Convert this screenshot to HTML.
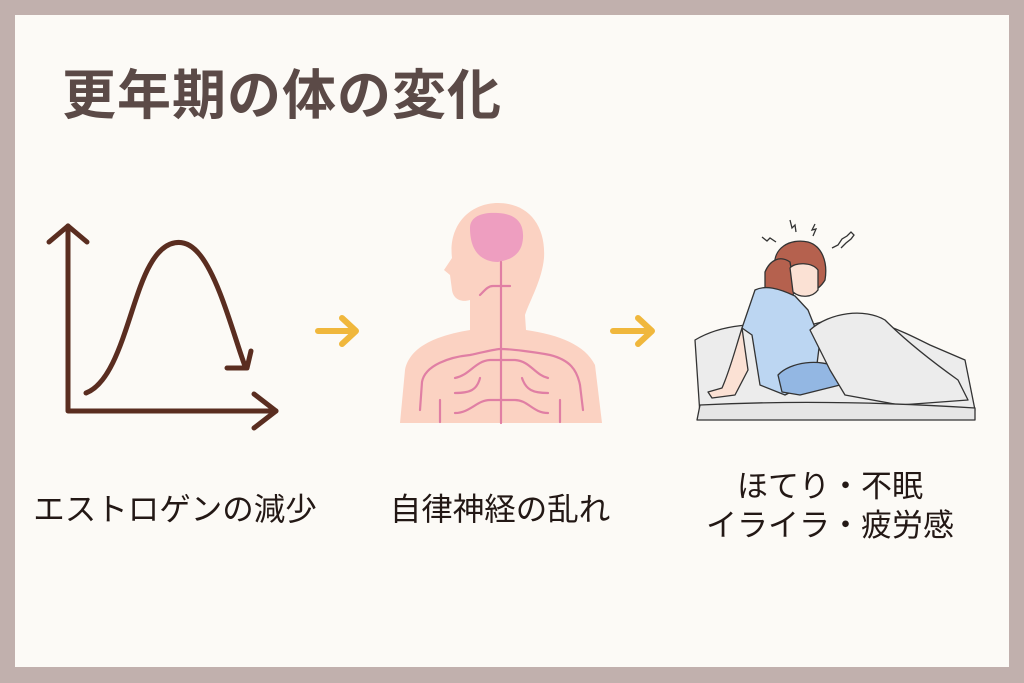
<!DOCTYPE html>
<html><head><meta charset="utf-8"><style>
html,body{margin:0;padding:0;}
body{width:1024px;height:683px;background:#c1b0ad;position:relative;overflow:hidden;font-family:"Liberation Sans","Noto Sans CJK JP",sans-serif;}
.panel{position:absolute;left:15px;top:15px;width:994px;height:652px;background:#fcfaf6;}
.t{position:absolute;color:#231815;white-space:nowrap;text-align:center;}
</style></head><body>
<div class="panel"></div>
<div class="t" style="left:62px;top:51px;font-size:54px;font-weight:bold;color:#5b4a47;letter-spacing:1px;">更年期の体の変化</div>
<div class="t" style="left:20px;width:310px;top:484px;font-size:31.5px;">エストロゲンの減少</div>
<div class="t" style="left:350px;width:300px;top:484px;font-size:31.5px;">自律神経の乱れ</div>
<div class="t" style="left:680px;width:300px;top:467px;font-size:31px;line-height:39px;">ほてり・不眠<br>イライラ・疲労感</div>
<svg width="1024" height="683" style="position:absolute;left:0;top:0">
<g fill="none" stroke="#5a2d20" stroke-width="5" stroke-linecap="round" stroke-linejoin="round">
<path d="M68 226 V411 H276"/>
<path d="M49 242 L68 226 L87 242"/>
<path d="M254 394 L276 411 L254 428"/>
<path d="M86 393 C120 380 130 300 150 265 C165 238 185 236 200 255 C220 280 235 340 245 366"/>
<path d="M227 368 L247 368 L251 351"/>
</g>
<g fill="none" stroke="#f0b73c" stroke-width="6" stroke-linecap="round" stroke-linejoin="round">
<path d="M318 331 H355 M342 318 L356 331 L342 344"/>
<path d="M613 331 H651 M638 318 L652 331 L638 344"/>
</g>
<path d="M400 423 L405 370 C410 345 440 335 470 330 L470 300 C460 303 453 298 452 290 L450 275 L444 270 L452 258 C448 225 470 203 498 203 C528 203 546 225 544 258 C542 280 530 300 525 315 L526 330 C560 335 585 345 595 365 L602 423 Z" fill="#fbd2c2"/>
<path d="M470 228 C470 215 485 212 498 213 C515 214 524 222 523 238 C522 255 510 260 498 262 C485 262 470 255 470 228Z" fill="#ee9ec0"/>
<g fill="none" stroke="#e07fa4" stroke-width="2.2" stroke-linecap="round">
<path d="M501 262 V423"/>
<path d="M480 295 C485 290 488 286 493 286 H510"/>
<path d="M420 410 L422 382 C425 365 450 357 470 355 C485 352 495 349 501 349 C510 349 535 352 550 355 C570 360 577 370 580 385 L583 410"/>
<path d="M455 378 C470 375 475 361 490 360 H515 C530 361 535 375 548 378"/>
<path d="M455 393 C470 393 477 390 480 378 M548 393 C533 393 526 390 522 378"/>
<path d="M440 400 V422 M560 400 V422"/>
<path d="M455 413 C470 413 477 400 490 400 H515 C528 400 533 413 548 413"/>
</g>
<g stroke="#333" stroke-width="1.3" stroke-linejoin="round">
<path d="M695 340 C720 325 760 320 790 330 L830 320 C860 310 900 330 930 345 L965 360 L975 410 L900 412 L700 415 Z" fill="#ececec"/>
<path d="M775 268 C772 248 790 238 808 242 C822 246 828 262 825 280 C818 292 805 296 790 290 Z" fill="#b5614e"/>
<path d="M765 272 C770 260 780 255 790 262 L795 292 C790 300 775 300 765 295 Z" fill="#b5614e"/>
<path d="M790 268 C795 262 812 262 818 270 L818 290 C812 298 800 298 793 292 Z" fill="#fbe1d4"/>
<path d="M755 290 C765 285 778 288 795 296 L808 310 L820 340 L815 380 L785 395 L760 385 L752 335 L742 328 Z" fill="#bcd6f2"/>
<path d="M742 328 C735 350 730 370 722 388 L708 392 L712 398 L735 395 L748 370 Z" fill="#fbe1d4"/>
<path d="M778 375 C790 362 820 358 838 368 L840 385 L800 395 L782 392 Z" fill="#93b7e3"/>
<path d="M810 330 C830 312 865 308 885 320 C905 340 930 360 958 380 L968 400 L900 405 L845 395 L830 370 Z" fill="#ececec"/>
<path d="M700 405 C760 402 850 400 975 408 L975 420 L697 420 Z" fill="#e6e6e6"/>
</g>
<g fill="none" stroke="#333" stroke-width="1.3">
<path d="M762 237 l5 4 l3 -3 l6 4"/>
<path d="M790 220 l2 8 l3 -3 l1 7"/>
<path d="M815 224 l-3 6 l4 -1 l-3 7"/>
<path d="M832 248 l6 -3 l4 -6 l5 -3 l4 -4 l3 3 l-3 4 l-5 4 l-5 5"/>
</g>
</svg>
</body></html>
